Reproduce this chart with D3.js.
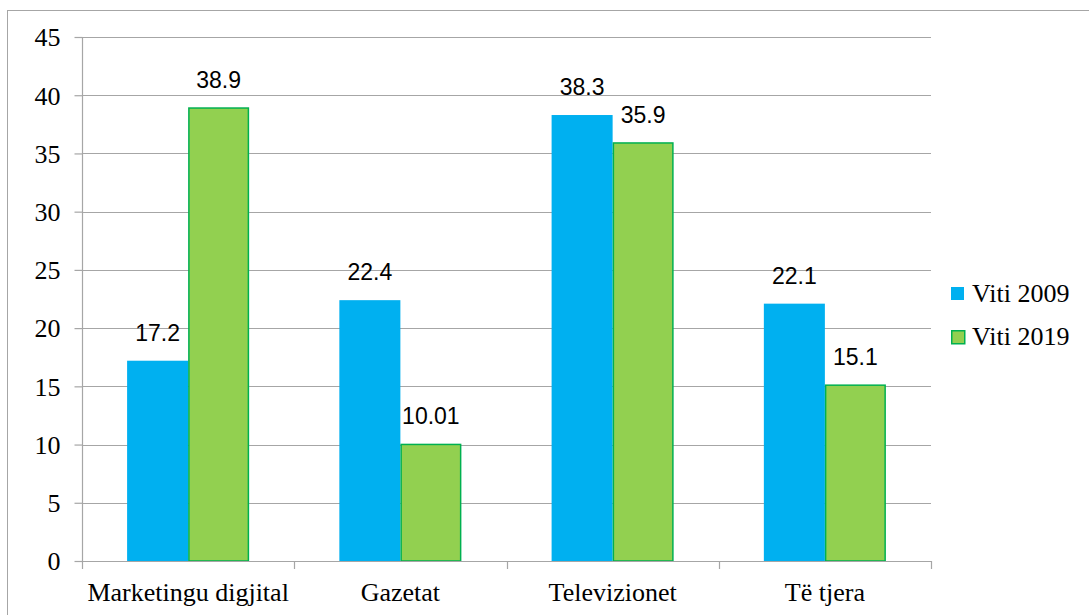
<!DOCTYPE html>
<html>
<head>
<meta charset="utf-8">
<style>
  body { margin: 0; background: #fff; }
  .axis text, .legend text { font-family: "Liberation Serif", "Times New Roman", serif; font-size: 26px; fill: #000; }
  .lbl { font-family: "Liberation Sans", Arial, sans-serif; font-size: 23px; fill: #000; }
</style>
</head>
<body>
<div id="chart-area"></div>
<script src="https://cdnjs.cloudflare.com/ajax/libs/d3/7.8.5/d3.min.js"></script>
<script>
    const categories = ["Marketingu digjital", "Gazetat", "Televizionet", "Të tjera"];
    const seriesNames = ["Viti 2009", "Viti 2019"];
    const values2009 = [17.2, 22.4, 38.3, 22.1];
    const values2019 = [38.9, 10.01, 35.9, 15.1];
    const labels2009 = ["17.2", "22.4", "38.3", "22.1"];
    const labels2019 = ["38.9", "10.01", "35.9", "15.1"];
    const yTicks = [0, 5, 10, 15, 20, 25, 30, 35, 40, 45];

    const width = 1089, height = 615;
    const mLeft = 82, mRight = 931, mTop = 37, mBottom = 561;
    const colors = ["#00B0F0", "#92D050"];
    const strokes = ["#00B0F0", "#00B050"];

    const svg = d3.select("#chart-area").append("svg")
        .attr("width", width).attr("height", height)
        .style("display", "block");

    // outer frame
    svg.append("rect")
        .attr("x", 7.5).attr("y", 10.5)
        .attr("width", width).attr("height", height)
        .attr("fill", "none").attr("stroke", "#a6a6a6");

    const x = d3.scaleBand().domain(categories).range([mLeft, mRight]);
    const y = d3.scaleLinear().domain([0, 45]).range([mBottom, mTop]);
    const groupW = x.bandwidth() * 0.575;
    const x1 = d3.scaleBand().domain(seriesNames).range([0, groupW]);

    // gridlines
    svg.append("g").selectAll("line").data(yTicks.filter(d => d > 0)).join("line")
        .attr("x1", mLeft).attr("x2", mRight)
        .attr("y1", d => Math.round(y(d)) + 0.5).attr("y2", d => Math.round(y(d)) + 0.5)
        .attr("stroke", "#a6a6a6").attr("stroke-width", 1.2);

    // y axis
    const yAxis = svg.append("g").attr("class", "axis")
        .attr("transform", `translate(${mLeft + 0.5},0)`)
        .call(d3.axisLeft(y).tickValues(yTicks).tickSize(8).tickPadding(14));
    yAxis.selectAll("line, path").attr("stroke", "#a6a6a6").attr("stroke-width", 1.2);
    yAxis.select(".domain").attr("d", `M0,${mTop}V${mBottom}`);
    yAxis.selectAll("text").attr("font-size", null).attr("font-family", null).attr("dy", "0.34em");

    const data = categories.map((c, i) => ({
        cat: c,
        vals: [
            { s: seriesNames[0], v: values2009[i], t: labels2009[i], k: 0 },
            { s: seriesNames[1], v: values2019[i], t: labels2019[i], k: 1 }
        ]
    }));

    const groups = svg.append("g").selectAll("g").data(data).join("g")
        .attr("transform", d => `translate(${x(d.cat) + (x.bandwidth() - groupW) / 2},0)`);

    groups.selectAll("rect").data(d => d.vals).join("rect")
        .attr("x", d => x1(d.s) + (d.k ? 0.75 : 0))
        .attr("y", d => y(d.v))
        .attr("width", d => x1.bandwidth() - (d.k ? 1.5 : 0))
        .attr("height", d => y(0) - y(d.v))
        .attr("fill", d => colors[d.k])
        .attr("stroke", d => strokes[d.k])
        .attr("stroke-width", d => d.k ? 1.5 : 0);

    groups.selectAll("text").data(d => d.vals).join("text")
        .attr("class", "lbl")
        .attr("x", d => x1(d.s) + x1.bandwidth() / 2)
        .attr("y", d => y(d.v) - 20)
        .attr("text-anchor", "middle")
        .text(d => d.t);

    // x axis
    const xAxis = svg.append("g").attr("class", "axis")
        .attr("transform", `translate(0,${mBottom + 0.5})`)
        .call(d3.axisBottom(x).tickSize(0).tickPadding(0));
    xAxis.select(".domain").attr("stroke", "#a6a6a6").attr("stroke-width", 1.2).attr("d", `M${mLeft},0H${mRight}`);
    xAxis.selectAll("text").attr("font-size", null).attr("font-family", null).attr("dy", null).attr("y", 39);
    svg.append("g").selectAll("line").data(d3.range(categories.length + 1)).join("line")
        .attr("x1", i => Math.round(mLeft + i * x.bandwidth()) + 0.5)
        .attr("x2", i => Math.round(mLeft + i * x.bandwidth()) + 0.5)
        .attr("y1", mBottom).attr("y2", mBottom + 8)
        .attr("stroke", "#a6a6a6").attr("stroke-width", 1.2);

    // legend
    const legend = svg.append("g").attr("class", "legend");
    const items = legend.selectAll("g").data(seriesNames).join("g")
        .attr("transform", (d, i) => `translate(951,${287 + i * 43})`);
    items.append("rect")
        .attr("width", 13).attr("height", 13)
        .attr("x", (d, i) => i ? 0.75 : 0).attr("y", (d, i) => i ? 0.75 : 0)
        .attr("fill", (d, i) => colors[i])
        .attr("stroke", (d, i) => strokes[i])
        .attr("stroke-width", (d, i) => i ? 1.5 : 0);
    items.append("text").attr("x", 21).attr("y", 15).text(d => d);
</script>
</body>
</html>
